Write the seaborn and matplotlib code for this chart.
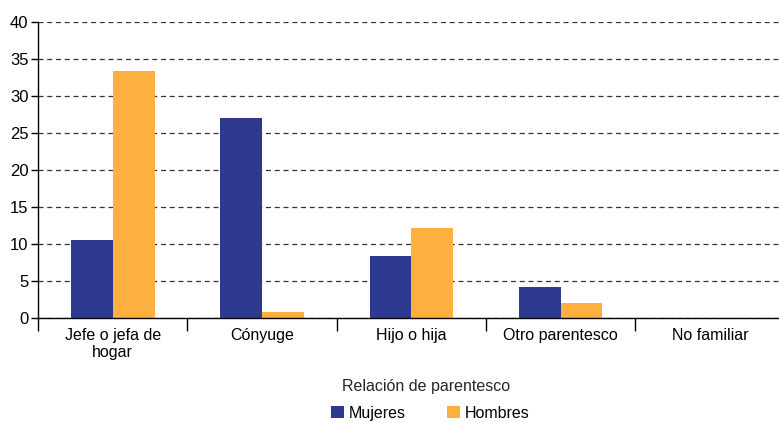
import pandas as pd
import numpy as np
import seaborn as sns
import matplotlib
matplotlib.use('Agg')
import matplotlib.pyplot as plt
from matplotlib.ticker import FixedLocator

sns.set_style('white')
plt.rcParams['font.family'] = ['Liberation Sans', 'DejaVu Sans']
plt.rcParams['text.color'] = 'black'
plt.rcParams['xtick.color'] = 'black'
plt.rcParams['ytick.color'] = 'black'

# data
categorias = ['Jefe o jefa de\nhogar', 'Cónyuge', 'Hijo o hija', 'Otro parentesco', 'No familiar']
mujeres = [10.5, 27.0, 8.4, 4.2, 0.0]
hombres = [33.4, 0.8, 12.2, 2.0, 0.0]
y_ticks = [0, 5, 10, 15, 20, 25, 30, 35, 40]

df = pd.DataFrame({
    'categoria': categorias * 2,
    'valor': mujeres + hombres,
    'sexo': ['Mujeres'] * len(categorias) + ['Hombres'] * len(categorias),
})

fig = plt.figure(figsize=(7.79, 4.23), dpi=100)
ax = fig.add_axes([0.049, 0.248, 0.958, 0.700])

sns.barplot(data=df, x='categoria', y='valor', hue='sexo',
            palette={'Mujeres': '#2E3A8F', 'Hombres': '#FBB040'},
            width=0.56, saturation=1, linewidth=0, ax=ax, legend=True)

ax.set_ylim(0, 40)
ax.set_xlim(-0.5, 4.5)
ax.set_yticks(y_ticks)
ax.yaxis.grid(True, linestyle=(0, (4, 3)), color='#333333', linewidth=0.9)
ax.set_axisbelow(True)

# ticks between the categories
ax.xaxis.set_minor_locator(FixedLocator(np.arange(-0.5, 5, 1)))
ax.tick_params(axis='x', which='major', bottom=False, length=0, labelsize=11.5, pad=7)
ax.tick_params(axis='x', which='minor', bottom=True, length=9, width=1, color='black', direction='out')
ax.tick_params(axis='y', left=True, length=5, width=1, color='black', direction='out', labelsize=12, pad=2)

for s in ['top', 'right']:
    ax.spines[s].set_visible(False)
for s in ['left', 'bottom']:
    ax.spines[s].set_color('black')
    ax.spines[s].set_linewidth(1)

ax.set_ylabel('')
ax.set_xlabel('Relación de parentesco', fontsize=11.5)
ax.xaxis.set_label_coords(0.52, -0.205)

leg = ax.legend(loc='center', bbox_to_anchor=(0.525, -0.322), ncol=2,
                frameon=False, fontsize=11.5, handlelength=0.8, handleheight=0.8,
                columnspacing=2.6, handletextpad=0.3, title=None)

fig.savefig('out.png', dpi=100)
